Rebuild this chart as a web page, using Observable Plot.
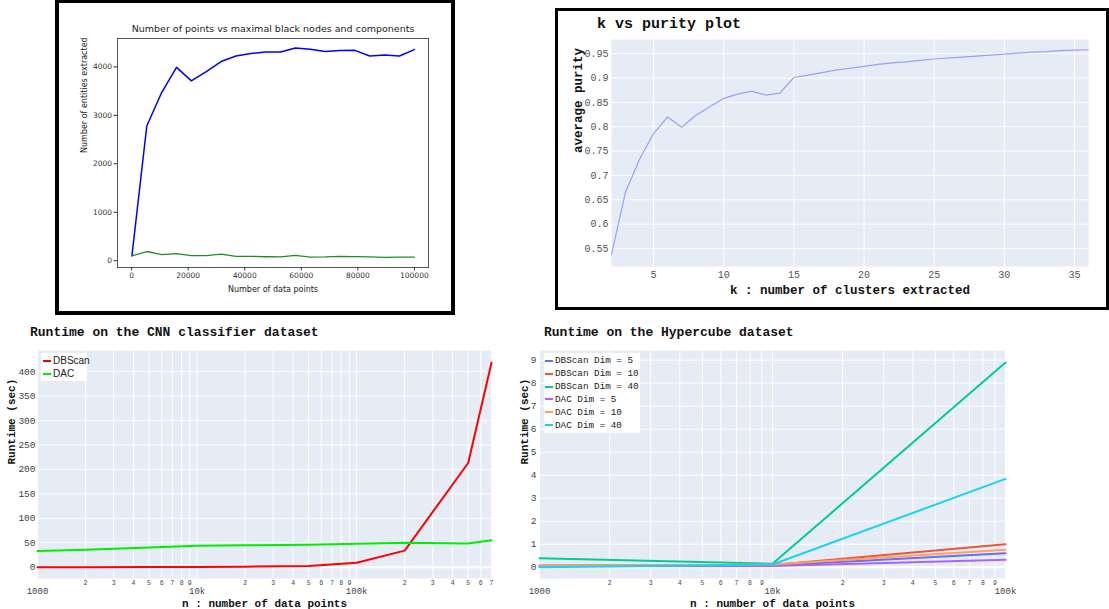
<!DOCTYPE html>
<html><head><meta charset="utf-8">
<script src="https://cdn.jsdelivr.net/npm/d3@7"></script>
<script src="https://cdn.jsdelivr.net/npm/@observablehq/plot@0.6"></script>
<style>
body{margin:0;background:#fff;}
#root{position:relative;width:1109px;height:609px;overflow:hidden;background:#fff;}
.box{position:absolute;border:4px solid #000;box-sizing:border-box;}
.ttl{position:absolute;font-family:"Liberation Mono",monospace;font-weight:bold;color:#111;white-space:nowrap;line-height:1;}
.legend{position:absolute;background:#fff;box-sizing:border-box;overflow:visible;}
.legend .row{display:flex;align-items:center;white-space:nowrap;color:#222;}
.legend .sw{display:inline-block;flex:0 0 auto;width:8px;height:2px;margin-right:2px;}
</style></head>
<body><div id="root"></div>
<script>
// ---- Panel 1: matplotlib line chart
const nPoints = [100, 5358, 10616, 15874, 21132, 26389, 31647, 36905, 42163, 47421, 52679, 57937, 63195, 68453, 73711, 78968, 84226, 89484, 94742, 100000];
const maxBlackNodes = [100, 2780, 3470, 3990, 3710, 3900, 4110, 4225, 4275, 4305, 4305, 4390, 4365, 4315, 4335, 4340, 4225, 4245, 4225, 4355];
const components = [100, 190, 125, 145, 105, 105, 135, 90, 90, 82, 78, 110, 76, 78, 90, 84, 78, 68, 76, 74];
const tlXTicks = [0, 20000, 40000, 60000, 80000, 100000];
const tlYTicks = [0, 1000, 2000, 3000, 4000];

// ---- Panel 2: k vs purity
const kValues = [2,3,4,5,6,7,8,9,10,11,12,13,14,15,16,17,18,19,20,21,22,23,24,25,26,27,28,29,30,31,32,33,34,35,36];
const purity = [0.538,0.666,0.733,0.786,0.820,0.799,0.823,0.841,0.858,0.867,0.873,0.865,0.869,0.901,0.906,0.911,0.916,0.920,0.924,0.928,0.931,0.933,0.936,0.939,0.941,0.943,0.945,0.947,0.949,0.951,0.953,0.954,0.956,0.957,0.958];
const kTicks = [5,10,15,20,25,30,35];
const purityTicks = [0.55,0.6,0.65,0.7,0.75,0.8,0.85,0.9,0.95];

// ---- Panel 3: CNN runtime
const cnnN = [1000, 2000, 5000, 10000, 20000, 50000, 100000, 200000, 500000, 700000];
const cnnDBScan = [0.05, 0.1, 0.3, 0.6, 1.2, 2.5, 9, 34, 213, 418];
const cnnDAC = [33, 36, 40.5, 44, 45, 46, 48, 50, 48.5, 55];
const cnnSeries = ["DBScan", "DAC"];
const cnnColors = ["#ff0000", "#00ee00"];
const cnnYTicks = [0, 50, 100, 150, 200, 250, 300, 350, 400];
const cnnMajorTicks = [1000, 10000, 100000];
const cnnMinorTicks = [2000,3000,4000,5000,6000,7000,8000,9000,20000,30000,40000,50000,60000,70000,80000,90000,200000,300000,400000,500000,600000,700000];

// ---- Panel 4: Hypercube runtime
const hcN = [1000, 10000, 100000];
const hcSeries = ["DBScan Dim = 5", "DBScan Dim = 10", "DBScan Dim = 40", "DAC Dim = 5", "DAC Dim = 10", "DAC Dim = 40"];
const hcColors = ["#636efa", "#EF553B", "#00cc96", "#ab63fa", "#FFA15A", "#19d3f3"];
const hcDBScan5 = [0.07, 0.07, 0.61];
const hcDBScan10 = [0.05, 0.10, 1.00];
const hcDBScan40 = [0.39, 0.15, 8.90];
const hcDAC5 = [0.04, 0.05, 0.32];
const hcDAC10 = [0.06, 0.12, 0.76];
const hcDAC40 = [0.00, 0.12, 3.84];
const hcYTicks = [0,1,2,3,4,5,6,7,8,9];
const hcMajorTicks = [1000, 10000, 100000];
const hcMinorTicks = [2000,3000,4000,5000,6000,7000,8000,9000,20000,30000,40000,50000,60000,70000,80000,90000];
const majorLabels = ["1000", "10k", "100k"];

const mono = "'Liberation Mono', 'DejaVu Sans Mono', monospace";
const root = document.getElementById("root");
function put(el, left, top) { el.style.position = "absolute"; el.style.left = left + "px"; el.style.top = top + "px"; root.appendChild(el); return el; }
function div(cls, text, left, top, css) { const d = document.createElement("div"); d.className = cls; if (text) d.textContent = text; Object.assign(d.style, css || {}); return put(d, left, top); }
const lead = d => String(Math.round(d / Math.pow(10, Math.floor(Math.log10(d) + 1e-9))));

// log-axis labels drawn as text marks (minor digits + major labels)
function logLabels(minor, major) {
  return [
    Plot.text(minor, {x: d => d, text: lead, frameAnchor: "bottom", lineAnchor: "middle", dy: 4.5, fontSize: 6.5, fill: "#444"}),
    Plot.text(major, {x: d => d, text: d => majorLabels[major.indexOf(d)], frameAnchor: "bottom", lineAnchor: "middle", dy: 12.5, fontSize: 9, fill: "#444"})
  ];
}

// ================= Panel 1 =================
const tlRows = nPoints.flatMap((n, i) => [{n, v: maxBlackNodes[i], s: "nodes"}, {n, v: components[i], s: "comp"}]);
const p1 = Plot.plot({
  width: 400, height: 315, marginLeft: 62, marginRight: 27, marginTop: 38, marginBottom: 48,
  style: {background: "transparent", color: "#333", fontFamily: "'DejaVu Sans', sans-serif", overflow: "visible"},
  x: {domain: [-5000, 105000]},
  y: {domain: [-140, 4585]},
  marks: [
    Plot.frame({stroke: "#555"}),
    Plot.axisX({ticks: tlXTicks, tickFormat: d => String(d), tickSize: 3.5, tickPadding: 2, fontSize: 7.5, label: null}),
    Plot.axisY({ticks: tlYTicks, tickFormat: d => String(d), tickSize: 3.5, tickPadding: 2, fontSize: 7.5, label: null}),
    Plot.line(tlRows.filter(d => d.s === "nodes"), {x: "n", y: "v", stroke: "#0000ff", strokeWidth: 1.5}),
    Plot.line(tlRows.filter(d => d.s === "comp"), {x: "n", y: "v", stroke: "#238b23", strokeWidth: 1.3}),
    Plot.text(["Number of points vs maximal black nodes and components"], {text: d => d, frameAnchor: "top", lineAnchor: "middle", dy: -9.5, fontSize: 9.5, fill: "#222"}),
    Plot.text(["Number of data points"], {text: d => d, frameAnchor: "bottom", lineAnchor: "middle", dy: 22, fontSize: 8, fill: "#222"}),
    Plot.text(["Number of entities extracted"], {text: d => d, frameAnchor: "left", dx: -33, rotate: -90, fontSize: 8, fill: "#222"})
  ]
});
put(p1, 55, 0);
div("box", "", 55, -1, {width: "400px", height: "316px", borderWidth: "4px"});

// ================= Panel 2 =================
const purityRows = kValues.map((k, i) => ({k, p: purity[i]}));
const p2 = Plot.plot({
  width: 554, height: 310, marginLeft: 56, marginRight: 21, marginTop: 39, marginBottom: 44,
  style: {background: "transparent", color: "#555", fontFamily: mono, overflow: "visible"},
  x: {domain: [2, 36]},
  y: {domain: [0.513, 0.979]},
  marks: [
    Plot.frame({fill: "#E5ECF6", stroke: "none"}),
    Plot.gridX({ticks: kTicks, stroke: "#fff", strokeOpacity: 1}),
    Plot.gridY({ticks: purityTicks, stroke: "#fff", strokeOpacity: 1}),
    Plot.axisX({ticks: kTicks, tickSize: 0, tickPadding: 4, fontSize: 10, label: null}),
    Plot.axisY({ticks: purityTicks, tickFormat: d => String(+d.toFixed(2)), tickSize: 0, tickPadding: 3, fontSize: 10, label: null}),
    Plot.line(purityRows, {x: "k", y: "p", stroke: "#636efa", strokeOpacity: 0.6, strokeWidth: 1.2}),
    Plot.text(["k : number of clusters extracted"], {text: d => d, frameAnchor: "bottom", lineAnchor: "middle", dy: 23, fontSize: 12.5, fontWeight: "bold", fill: "#111"}),
    Plot.text(["average purity"], {text: d => d, frameAnchor: "left", dx: -34, rotate: -90, fontSize: 12.5, fontWeight: "bold", fill: "#111"})
  ]
});
put(p2, 555, 0);
div("ttl", "k vs purity plot", 597, 17, {fontSize: "15px"});
div("box", "", 555, 8, {width: "554px", height: "302px", borderWidth: "3px"});

// ================= Panel 3 =================
const cnnRows = cnnN.flatMap((n, i) => [{n, t: cnnDBScan[i], s: cnnSeries[0]}, {n, t: cnnDAC[i], s: cnnSeries[1]}]);
const p3 = Plot.plot({
  width: 500, height: 289, marginLeft: 37, marginRight: 9, marginTop: 30, marginBottom: 31,
  style: {background: "transparent", color: "#444", fontFamily: mono, overflow: "visible"},
  x: {type: "log", domain: [1000, 700000], axis: null},
  y: {domain: [-23, 443]},
  marks: [
    Plot.frame({fill: "#E5ECF6", stroke: "none"}),
    Plot.gridX({ticks: cnnMinorTicks.concat(cnnMajorTicks), stroke: "#fff", strokeOpacity: 1}),
    Plot.gridY({ticks: cnnYTicks, stroke: "#fff", strokeOpacity: 1}),
    Plot.ruleY([0], {stroke: "#fff", strokeWidth: 2}),
    Plot.axisY({ticks: cnnYTicks, tickSize: 0, tickPadding: 2, fontSize: 9.5, label: null}),
    ...logLabels(cnnMinorTicks, cnnMajorTicks),
    ...cnnSeries.map((s, j) => Plot.line(cnnRows.filter(d => d.s === s), {x: "n", y: "t", stroke: cnnColors[j], strokeWidth: 2})),
    Plot.text(["n : number of data points"], {text: d => d, frameAnchor: "bottom", lineAnchor: "middle", dy: 25, fontSize: 11, fontWeight: "bold", fill: "#111"}),
    Plot.text(["Runtime (sec)"], {text: d => d, frameAnchor: "left", dx: -26, rotate: -90, fontSize: 11, fontWeight: "bold", fill: "#111"})
  ]
});
put(p3, 0, 320);
div("ttl", "Runtime on the CNN classifier dataset", 30, 326, {fontSize: "13px"});
const lg3 = div("legend", "", 41, 353, {width: "46px", height: "28px", paddingTop: "1px", paddingLeft: "2px"});
cnnSeries.forEach((s, j) => {
  const r = document.createElement("div"); r.className = "row";
  Object.assign(r.style, {height: "13px", fontFamily: "'Liberation Sans', Arial, sans-serif", fontSize: "10px"});
  const sw = document.createElement("span"); sw.className = "sw"; sw.style.background = cnnColors[j];
  r.appendChild(sw); r.appendChild(document.createTextNode(s)); lg3.appendChild(r);
});

// ================= Panel 4 =================
const hcValues = [hcDBScan5, hcDBScan10, hcDBScan40, hcDAC5, hcDAC10, hcDAC40];
const hcRows = hcSeries.flatMap((s, j) => hcN.map((n, i) => ({n, t: hcValues[j][i], s})));
const p4 = Plot.plot({
  width: 520, height: 289, marginLeft: 34, marginRight: 20, marginTop: 30, marginBottom: 31,
  style: {background: "transparent", color: "#444", fontFamily: mono, overflow: "visible"},
  x: {type: "log", domain: [1000, 100000], axis: null},
  y: {domain: [-0.49, 9.42]},
  marks: [
    Plot.frame({fill: "#E5ECF6", stroke: "none"}),
    Plot.gridX({ticks: hcMinorTicks.concat(hcMajorTicks), stroke: "#fff", strokeOpacity: 1}),
    Plot.gridY({ticks: hcYTicks, stroke: "#fff", strokeOpacity: 1}),
    Plot.ruleY([0], {stroke: "#fff", strokeWidth: 2}),
    Plot.axisY({ticks: hcYTicks, tickSize: 0, tickPadding: 3, fontSize: 9.5, label: null}),
    ...logLabels(hcMinorTicks, hcMajorTicks),
    ...hcSeries.map((s, j) => Plot.line(hcRows.filter(d => d.s === s), {x: "n", y: "t", stroke: hcColors[j], strokeWidth: 2})),
    Plot.text(["n : number of data points"], {text: d => d, frameAnchor: "bottom", lineAnchor: "middle", dy: 25, fontSize: 11, fontWeight: "bold", fill: "#111"}),
    Plot.text(["Runtime (sec)"], {text: d => d, frameAnchor: "left", dx: -15, rotate: -90, fontSize: 11, fontWeight: "bold", fill: "#111"})
  ]
});
put(p4, 505, 320);
div("ttl", "Runtime on the Hypercube dataset", 544, 326, {fontSize: "13px"});
const lg4 = div("legend", "", 544, 353, {width: "96px", height: "80px", paddingTop: "1.3px", paddingLeft: "1px"});
hcSeries.forEach((s, j) => {
  const r = document.createElement("div"); r.className = "row";
  Object.assign(r.style, {height: "12.9px", fontFamily: mono, fontSize: "9.3px"});
  const sw = document.createElement("span"); sw.className = "sw"; sw.style.background = hcColors[j];
  r.appendChild(sw); r.appendChild(document.createTextNode(s)); lg4.appendChild(r);
});
</script>
</body></html>
